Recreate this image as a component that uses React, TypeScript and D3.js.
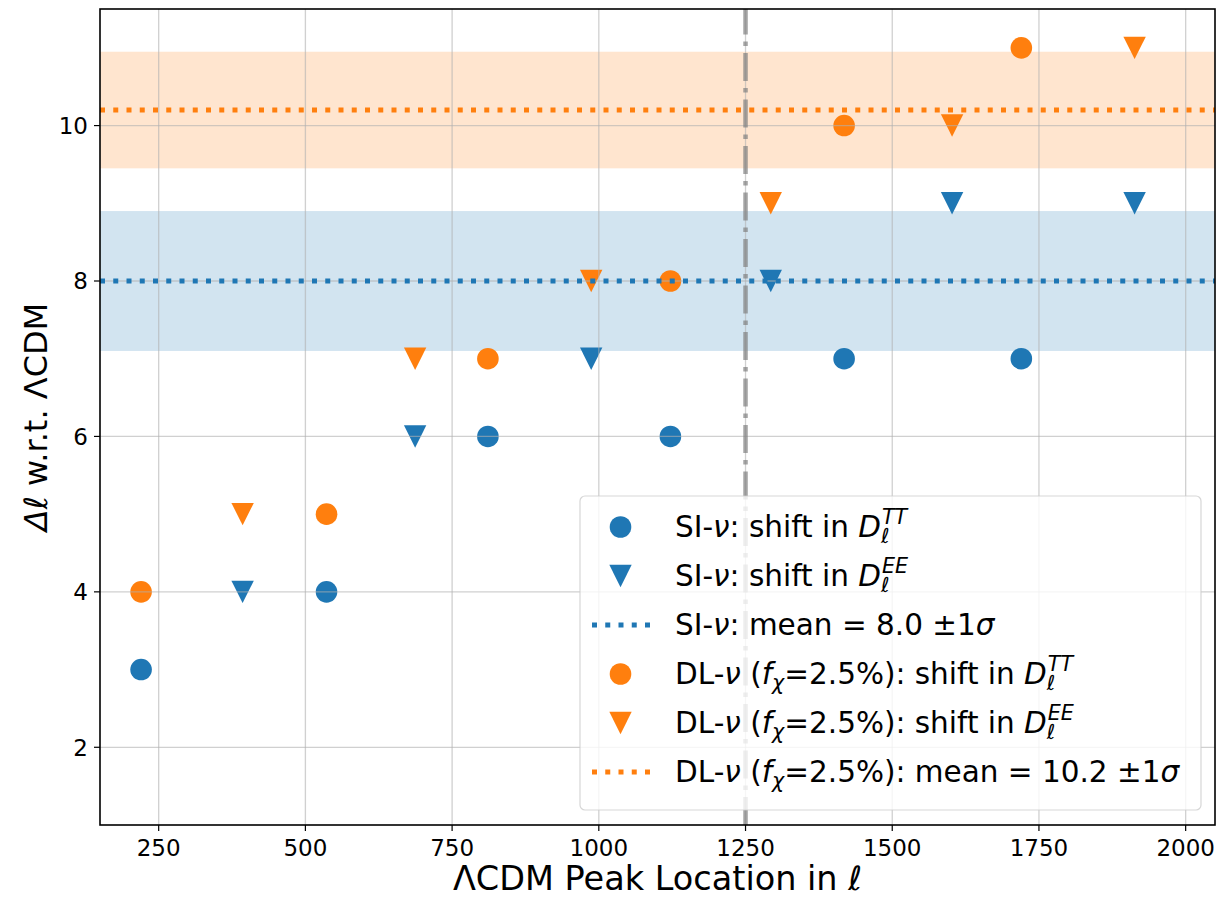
import * as d3 from 'd3';
import { useRef, useEffect } from 'react';

// peak locations in LCDM (multipole ell)
const peakTT = [220, 536, 811, 1122, 1418, 1720];
const peakEE = [393, 687, 987, 1293, 1602, 1913];

// shift of each peak w.r.t. LCDM
const siShiftTT = [3, 4, 6, 6, 7, 7];
const siShiftEE = [4, 6, 7, 8, 9, 9];
const dlShiftTT = [4, 5, 7, 8, 10, 11];
const dlShiftEE = [5, 7, 8, 9, 10, 11];

// mean and 1 sigma band
const siMean = 8.0;
const siSigma = 0.9;
const dlMean = 10.2;
const dlSigma = 0.75;

const xTicks = [250, 500, 750, 1000, 1250, 1500, 1750, 2000];
const yTicks = [2, 4, 6, 8, 10];
const splitAt = 1250;

const BLUE = '#1f77b4';
const ORANGE = '#ff7f0e';
const FONT = '"DejaVu Sans", sans-serif';

type Seg = { t?: string; it?: boolean; sub?: string; sup?: string };

const legendItems: { kind: string; color: string; label: Seg[] }[] = [
    { kind: 'circle', color: BLUE, label: [{ t: 'SI-' }, { t: 'ν', it: true }, { t: ': shift in ' }, { t: 'D', it: true }, { sub: 'ℓ', sup: 'TT' }] },
    { kind: 'tri', color: BLUE, label: [{ t: 'SI-' }, { t: 'ν', it: true }, { t: ': shift in ' }, { t: 'D', it: true }, { sub: 'ℓ', sup: 'EE' }] },
    { kind: 'line', color: BLUE, label: [{ t: 'SI-' }, { t: 'ν', it: true }, { t: ': mean = 8.0 ±1' }, { t: 'σ', it: true }] },
    { kind: 'circle', color: ORANGE, label: [{ t: 'DL-' }, { t: 'ν', it: true }, { t: ' (' }, { t: 'f', it: true }, { sub: 'χ' }, { t: '=2.5%): shift in ' }, { t: 'D', it: true }, { sub: 'ℓ', sup: 'TT' }] },
    { kind: 'tri', color: ORANGE, label: [{ t: 'DL-' }, { t: 'ν', it: true }, { t: ' (' }, { t: 'f', it: true }, { sub: 'χ' }, { t: '=2.5%): shift in ' }, { t: 'D', it: true }, { sub: 'ℓ', sup: 'EE' }] },
    { kind: 'line', color: ORANGE, label: [{ t: 'DL-' }, { t: 'ν', it: true }, { t: ' (' }, { t: 'f', it: true }, { sub: 'χ' }, { t: '=2.5%): mean = 10.2 ±1' }, { t: 'σ', it: true }] },
];

const triPath = (cx, cy, a) => `M${cx - a},${cy - a}L${cx + a},${cy - a}L${cx},${cy + a}Z`;

export default function App() {
    const ref = useRef(null);

    useEffect(() => {
        const width = 1223;
        const height = 897;
        const margin = { top: 9, right: 8, bottom: 72, left: 100 };

        const svg = d3.select(ref.current);
        svg.selectAll('*').remove();
        svg.attr('width', width).attr('height', height);

        const x = d3.scaleLinear().domain([150, 2050]).range([margin.left, width - margin.right]);
        const y = d3.scaleLinear().domain([1, 11.5]).range([height - margin.bottom, margin.top]);
        const [x0, x1] = x.range();
        const [y0, y1] = y.range();

        svg.append('rect').attr('width', width).attr('height', height).attr('fill', 'white');

        // 1 sigma bands
        svg.append('rect')
            .attr('x', x0).attr('width', x1 - x0)
            .attr('y', y(dlMean + dlSigma)).attr('height', y(dlMean - dlSigma) - y(dlMean + dlSigma))
            .attr('fill', ORANGE).attr('fill-opacity', 0.2);
        svg.append('rect')
            .attr('x', x0).attr('width', x1 - x0)
            .attr('y', y(siMean + siSigma)).attr('height', y(siMean - siSigma) - y(siMean + siSigma))
            .attr('fill', BLUE).attr('fill-opacity', 0.2);

        // scatter points
        const pts = svg.append('g');
        const drawCircles = (xs, ys, color) => {
            pts.selectAll(null).data(xs).enter().append('circle')
                .attr('cx', d => x(d)).attr('cy', (d, i) => y(ys[i]))
                .attr('r', 10.8).attr('fill', color);
        };
        const drawTris = (xs, ys, color) => {
            pts.selectAll(null).data(xs).enter().append('path')
                .attr('d', (d, i) => triPath(x(d), y(ys[i]), 11.2))
                .attr('fill', color);
        };
        drawCircles(peakTT, siShiftTT, BLUE);
        drawTris(peakEE, siShiftEE, BLUE);
        drawCircles(peakTT, dlShiftTT, ORANGE);
        drawTris(peakEE, dlShiftEE, ORANGE);

        // grid
        const grid = svg.append('g').attr('stroke', '#b0b0b0').attr('stroke-opacity', 0.6).attr('stroke-width', 1.3);
        grid.selectAll(null).data(xTicks).enter().append('line')
            .attr('x1', d => x(d)).attr('x2', d => x(d)).attr('y1', y0).attr('y2', y1);
        grid.selectAll(null).data(yTicks).enter().append('line')
            .attr('y1', d => y(d)).attr('y2', d => y(d)).attr('x1', x0).attr('x2', x1);

        // mean lines
        const lw = 5;
        [[siMean, BLUE], [dlMean, ORANGE]].forEach(([m, c]) => {
            svg.append('line')
                .attr('x1', x0).attr('x2', x1).attr('y1', y(m)).attr('y2', y(m))
                .attr('stroke', c).attr('stroke-width', lw)
                .attr('stroke-dasharray', `${lw} ${lw * 1.65}`);
        });

        // split line
        svg.append('line')
            .attr('x1', x(splitAt)).attr('x2', x(splitAt)).attr('y1', y0).attr('y2', y1)
            .attr('stroke', 'gray').attr('stroke-opacity', 0.7).attr('stroke-width', 4.5)
            .attr('stroke-dasharray', '28 7 4.5 7');

        // spines
        svg.append('rect')
            .attr('x', x0).attr('y', y1).attr('width', x1 - x0).attr('height', y0 - y1)
            .attr('fill', 'none').attr('stroke', 'black').attr('stroke-width', 1.6);

        // ticks
        const tickFs = 23;
        const ax = svg.append('g').attr('font-family', FONT).attr('font-size', tickFs).attr('fill', 'black');
        xTicks.forEach(t => {
            ax.append('line').attr('x1', x(t)).attr('x2', x(t)).attr('y1', y0).attr('y2', y0 + 6)
                .attr('stroke', 'black').attr('stroke-width', 1.2);
            ax.append('text').attr('x', x(t)).attr('y', y0 + 31).attr('text-anchor', 'middle').text(t);
        });
        yTicks.forEach(t => {
            ax.append('line').attr('x1', x0 - 6).attr('x2', x0).attr('y1', y(t)).attr('y2', y(t))
                .attr('stroke', 'black').attr('stroke-width', 1.2);
            ax.append('text').attr('x', x0 - 12).attr('y', y(t) + 8.3).attr('text-anchor', 'end').text(t);
        });

        // axis labels
        const xl = svg.append('text').attr('font-family', FONT).attr('font-size', 33.5)
            .attr('x', (x0 + x1) / 2).attr('y', 890).attr('text-anchor', 'middle');
        xl.append('tspan').text('ΛCDM Peak Location in ');
        xl.append('tspan').attr('font-style', 'italic').text('ℓ');

        const yl = svg.append('text').attr('font-family', FONT).attr('font-size', 32)
            .attr('transform', `translate(47,${(y0 + y1) / 2}) rotate(-90)`).attr('text-anchor', 'middle');
        yl.append('tspan').attr('font-style', 'italic').text('Δℓ');
        yl.append('tspan').text(' w.r.t. ΛCDM');

        // legend
        const lg = svg.append('g');
        lg.append('rect')
            .attr('x', 580).attr('y', 496).attr('width', 621).attr('height', 314).attr('rx', 5)
            .attr('fill', 'white').attr('fill-opacity', 0.8)
            .attr('stroke', '#cccccc').attr('stroke-opacity', 0.8).attr('stroke-width', 1.2);

        const fs = 29.5;
        const rowGap = 49;
        const base0 = 537;
        const hx = 620.5;
        const textX = 675;

        const put = (gx, px, py, s, size, italic) => {
            const node = gx.append('text')
                .attr('x', px).attr('y', py)
                .attr('font-family', FONT).attr('font-size', size)
                .attr('font-style', italic ? 'italic' : 'normal')
                .style('white-space', 'pre')
                .text(s);
            return node.node().getComputedTextLength();
        };

        legendItems.forEach((item, i) => {
            const base = base0 + i * rowGap;
            const cy = base - 10;
            if (item.kind === 'circle') {
                lg.append('circle').attr('cx', hx).attr('cy', cy).attr('r', 10.8).attr('fill', item.color);
            } else if (item.kind === 'tri') {
                lg.append('path').attr('d', triPath(hx, cy, 11.2)).attr('fill', item.color);
            } else {
                lg.append('line').attr('x1', 592).attr('x2', 650).attr('y1', cy).attr('y2', cy)
                    .attr('stroke', item.color).attr('stroke-width', lw)
                    .attr('stroke-dasharray', `${lw} ${lw * 1.65}`);
            }
            let cx = textX;
            item.label.forEach(seg => {
                if (seg.t !== undefined) {
                    cx += put(lg, cx, base, seg.t, fs, seg.it);
                } else {
                    let w = 0;
                    if (seg.sub) w = Math.max(w, put(lg, cx, base + 0.22 * fs, seg.sub, fs * 0.7, true));
                    if (seg.sup) w = Math.max(w, put(lg, cx + 1, base - 0.45 * fs, seg.sup, fs * 0.7, true));
                    cx += w;
                }
            });
        });
    }, []);

    return (
        <svg ref={ref} style={{ position: 'absolute', left: 0, top: 0, display: 'block' }}></svg>
    );
}
